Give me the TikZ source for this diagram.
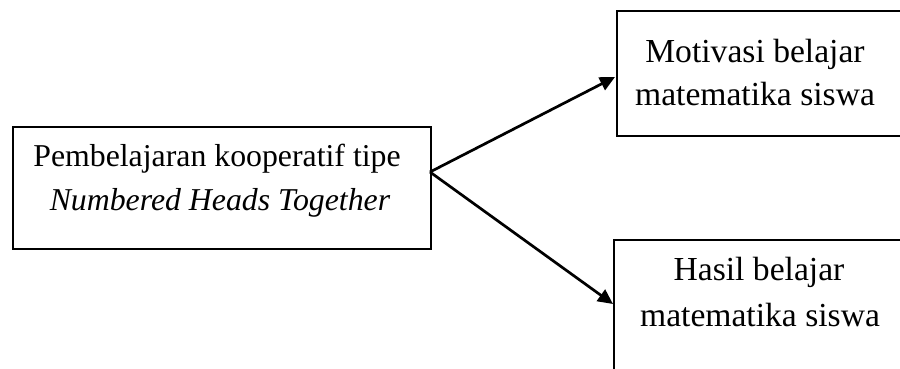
\documentclass[tikz,border=0pt]{standalone}
\usepackage{fontspec}
\setmainfont{Liberation Serif}
\usetikzlibrary{arrows.meta}
\begin{document}
\begin{tikzpicture}[x=1pt,y=-1pt,
  box/.style={draw,line width=1.7pt,anchor=north west,inner sep=0pt},
  lbl/.style={font=\fontsize{33.6}{40}\selectfont,anchor=base,inner sep=0pt},
  srclbl/.style={lbl,font=\fontsize{31.8}{38}\selectfont},
  link/.style={line width=2.7pt,-{Triangle[length=15pt,width=14pt]}}]
  \useasboundingbox (0,0) rectangle (900,369);
  \clip (0,0) rectangle (900,369);
  % boxes
  \node[box,minimum width=418pt,minimum height=122pt] (src) at (12,126) {};
  \node[box,minimum width=292pt,minimum height=125pt] (motiv) at (616,10) {};
  \node[box,minimum width=300pt,minimum height=160pt] (hasil) at (613,239) {};
  % labels
  \node[srclbl] (src1) at (217,166) {Pembelajaran kooperatif tipe};
  \node[srclbl] (src2) at (220,210) {\textit{Numbered Heads Together}};
  \node[lbl] (motiv1) at (755,63) {Motivasi belajar};
  \node[lbl] (motiv2) at (755,106) {matematika siswa};
  \node[lbl] (hasil1) at (759,280) {Hasil belajar};
  \node[lbl] (hasil2) at (760,326) {matematika siswa};
  % connectors
  \coordinate (fork) at (430,172);
  \coordinate (inMotiv) at (615,77);
  \coordinate (inHasil) at (613,304);
  \draw[link] (fork) -- (inMotiv);
  \draw[link] (fork) -- (inHasil);
\end{tikzpicture}
\end{document}
